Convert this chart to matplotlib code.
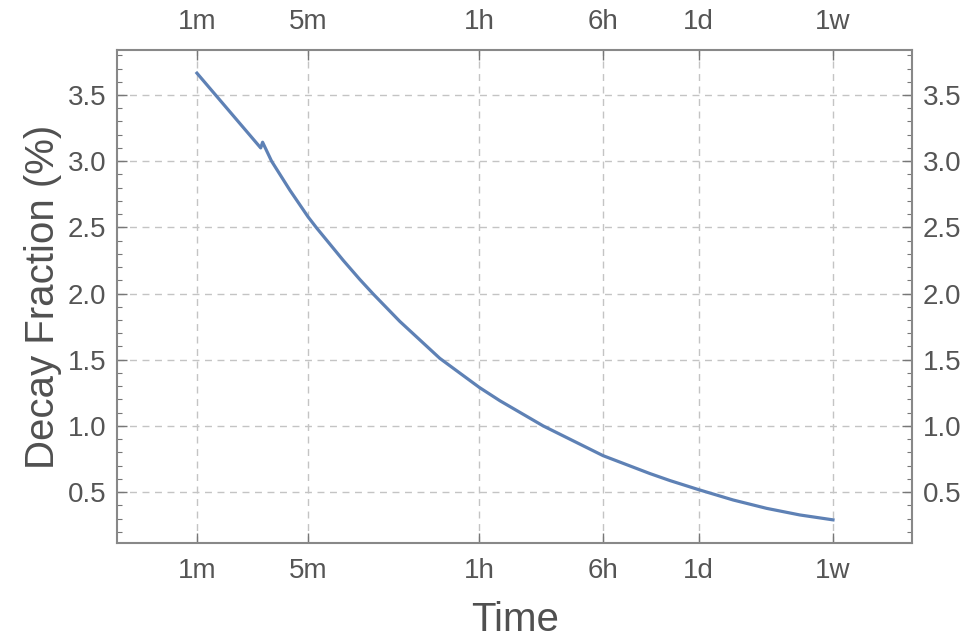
import matplotlib.pyplot as plt
from matplotlib.ticker import FixedLocator, MultipleLocator

# time in minutes, decay fraction in %
time_min = [1, 2.52, 2.59, 2.95, 3.85, 5.0, 5.67, 8.34, 10.6, 12.9, 18.9, 33.8, 60,
            80.7, 151, 360, 709, 948, 1440, 2373, 3850, 6237, 10080]
decay_pct = [3.665, 3.10, 3.143, 3.0, 2.78, 2.58, 2.495, 2.25, 2.106, 1.995, 1.79, 1.51, 1.29,
             1.19, 1.0, 0.775, 0.64, 0.587, 0.518, 0.44, 0.377, 0.327, 0.29]

tick_min = [1, 5, 60, 360, 1440, 10080]
tick_lbl = ['1m', '5m', '1h', '6h', '1d', '1w']
y_major = [0.5, 1.0, 1.5, 2.0, 2.5, 3.0, 3.5]

plt.rcParams['font.family'] = ['Liberation Sans', 'DejaVu Sans']
fig = plt.figure(figsize=(9.67, 6.39), dpi=100)
ax = fig.add_axes([0.1215, 0.1502, 0.8215, 0.7716])

ax.plot(time_min, decay_pct, color='#5E81B5', linewidth=2.3, solid_joinstyle='round')

ax.set_xscale('log')
ax.set_xlim(10 ** -0.5, 10 ** 4.5)
ax.set_ylim(0.115, 3.84)

ax.xaxis.set_major_locator(FixedLocator(tick_min))
ax.xaxis.set_minor_locator(FixedLocator([]))
ax.set_xticklabels(tick_lbl)
ax.yaxis.set_major_locator(FixedLocator(y_major))
ax.yaxis.set_minor_locator(MultipleLocator(0.1))
ax.set_yticklabels(['{:.1f}'.format(v) for v in y_major])

lab_col = '#555555'
ax.tick_params(which='both', direction='in', top=True, right=True,
               labeltop=True, labelright=True, color='#777777')
ax.tick_params(which='major', length=7, width=1.0, labelsize=20, labelcolor=lab_col, pad=8)
ax.tick_params(axis='x', which='major', pad=11)
ax.tick_params(which='minor', length=3.5, width=0.8)

ax.grid(True, which='major', linestyle=(0, (5, 4)), color='#c4c4c4', linewidth=1.0)
ax.set_axisbelow(True)

for s in ax.spines.values():
    s.set_color('#888888')
    s.set_linewidth(1.5)

ax.set_xlabel('Time', fontsize=29, color='#505050', labelpad=12)
ax.set_ylabel('Decay Fraction (%)', fontsize=29, color='#505050', labelpad=4)

fig.savefig('out.png', dpi=100)
